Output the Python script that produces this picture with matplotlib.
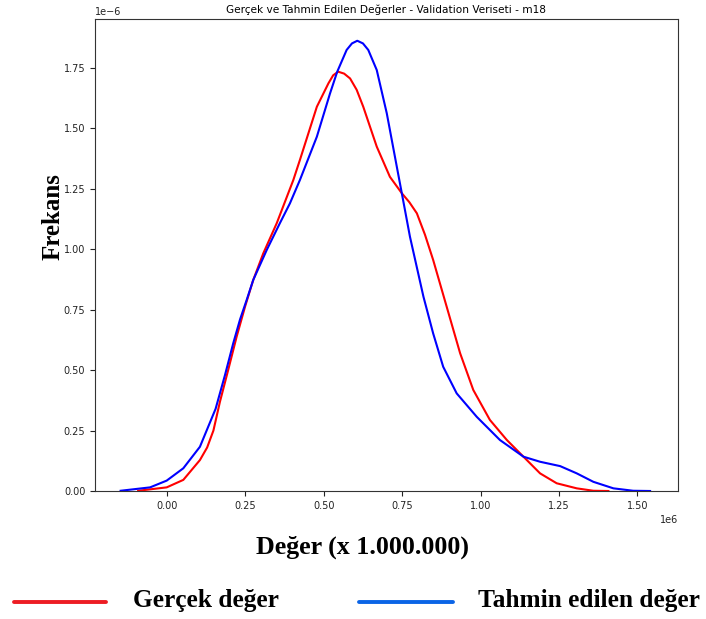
import matplotlib
matplotlib.use("Agg")
import matplotlib.pyplot as plt
from matplotlib.lines import Line2D

# Values (x in units of 1e6, density in units of 1e-6)
gercek_x = [-0.092, -0.001, 0.052, 0.105, 0.128, 0.148, 0.169, 0.195, 0.222, 0.249,
            0.275, 0.307, 0.350, 0.403, 0.424, 0.478, 0.515, 0.530, 0.546, 0.565,
            0.584, 0.605, 0.626, 0.669, 0.711, 0.749, 0.773, 0.797, 0.823, 0.849,
            0.892, 0.935, 0.977, 1.030, 1.084, 1.137, 1.190, 1.243, 1.307, 1.360,
            1.408]
gercek_y = [0.001, 0.015, 0.046, 0.128, 0.180, 0.250, 0.370, 0.500, 0.638, 0.763,
            0.873, 0.983, 1.108, 1.287, 1.370, 1.590, 1.687, 1.720, 1.735, 1.727,
            1.707, 1.660, 1.590, 1.425, 1.300, 1.232, 1.195, 1.149, 1.060, 0.956,
            0.763, 0.570, 0.418, 0.294, 0.211, 0.142, 0.073, 0.032, 0.011, 0.001,
            0.000]

tahmin_x = [-0.148, -0.054, -0.001, 0.052, 0.105, 0.155, 0.185, 0.211, 0.233, 0.254,
            0.275, 0.318, 0.360, 0.392, 0.424, 0.478, 0.520, 0.543, 0.573, 0.590,
            0.607, 0.625, 0.642, 0.669, 0.701, 0.733, 0.749, 0.775, 0.818, 0.849,
            0.881, 0.924, 0.988, 1.062, 1.137, 1.190, 1.254, 1.307, 1.360, 1.424,
            1.487, 1.541]
tahmin_y = [0.001, 0.015, 0.043, 0.094, 0.183, 0.340, 0.480, 0.610, 0.710, 0.790,
            0.873, 0.997, 1.108, 1.190, 1.287, 1.466, 1.645, 1.735, 1.825, 1.852,
            1.863, 1.852, 1.825, 1.742, 1.563, 1.342, 1.232, 1.052, 0.804, 0.652,
            0.514, 0.404, 0.307, 0.211, 0.142, 0.121, 0.103, 0.073, 0.038, 0.011,
            0.001, 0.000]

x_ticks = [0.0, 0.25, 0.5, 0.75, 1.0, 1.25, 1.5]
y_ticks = [0.0, 0.25, 0.5, 0.75, 1.0, 1.25, 1.5, 1.75]

title = "Gerçek ve Tahmin Edilen Değerler - Validation Veriseti - m18"
xlabel = "Değer (x 1.000.000)"
ylabel = "Frekans"
legend_labels = ["Gerçek değer", "Tahmin edilen değer"]

fig = plt.figure(figsize=(7.06, 6.19), dpi=100)
ax = fig.add_axes([95/706, 1 - 491/619, (678 - 95)/706, (491 - 19)/619])

ax.plot([v * 1e6 for v in gercek_x], [v * 1e-6 for v in gercek_y], color="red", lw=1.5)
ax.plot([v * 1e6 for v in tahmin_x], [v * 1e-6 for v in tahmin_y], color="blue", lw=1.5)

ax.set_xlim(-0.2297e6, 1.630e6)
ax.set_ylim(0, 1.953e-6)
ax.set_xticks([v * 1e6 for v in x_ticks])
ax.set_yticks([v * 1e-6 for v in y_ticks])
ax.tick_params(labelsize=7, length=3.5, width=0.8, colors="#222222")
ax.xaxis.get_offset_text().set_fontsize(7)
ax.yaxis.get_offset_text().set_fontsize(7)
for s in ax.spines.values():
    s.set_linewidth(0.8)
    s.set_color("#333333")

ax.set_title(title, fontsize=7.6, pad=4)

serif = ["Liberation Serif", "DejaVu Serif"]
fig.text(53/706, 1 - 217/619, ylabel, rotation=90, ha="center", va="center",
         fontsize=18, fontweight="bold", family=serif)
fig.text(363/706, 1 - 547/619, xlabel, ha="center", va="center",
         fontsize=18.7, fontweight="bold", family=serif)

yl = 1 - 602/619
fig.add_artist(Line2D([14/706, 106/706], [yl, yl], color="#ED1C24", lw=2.8,
                      solid_capstyle="round", transform=fig.transFigure))
fig.add_artist(Line2D([359/706, 453/706], [yl, yl], color="#0A64E6", lw=2.8,
                      solid_capstyle="round", transform=fig.transFigure))
ty = 1 - 600/619
fig.text(133/706, ty, legend_labels[0], ha="left", va="center",
         fontsize=18.3, fontweight="bold", family=serif)
fig.text(478/706, ty, legend_labels[1], ha="left", va="center",
         fontsize=18.3, fontweight="bold", family=serif)

fig.savefig("out.png", dpi=100)
